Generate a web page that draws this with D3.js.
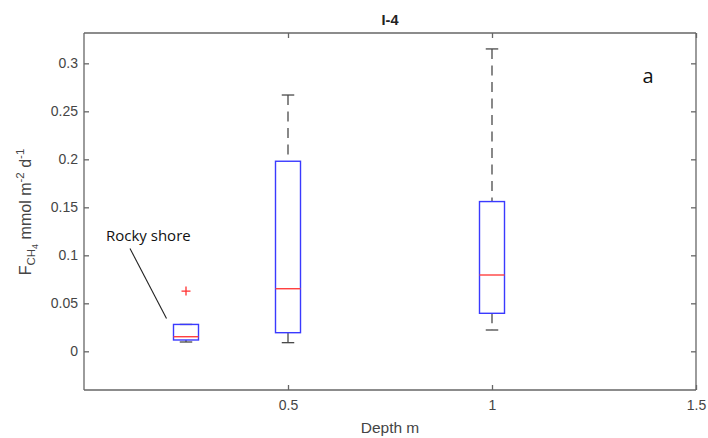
<!DOCTYPE html>
<html><head><meta charset="utf-8">
<script src="https://cdn.jsdelivr.net/npm/d3@7"></script>
<style>body{margin:0;background:#fff}svg{display:block}</style>
</head><body>
<script>
// Data
const depths = [0.25, 0.5, 1];
const q1 = [0.0118, 0.0194, 0.0396];
const medians = [0.0152, 0.0652, 0.0795];
const q3 = [0.028, 0.198, 0.156];
const whiskerLow = [0.0097, 0.009, 0.0222];
const whiskerHigh = [0.028, 0.267, 0.315];
const outliers = [[0.25, 0.0628]];
const yTicks = [0, 0.05, 0.1, 0.15, 0.2, 0.25, 0.3];
const xTicks = [0.5, 1, 1.5];
const title = "I-4";
const panelLabel = "a";
const annotation = "Rocky shore";

const W = 708, H = 438;
const m = {l: 84, r: 12, t: 33, b: 48};
const svg = d3.select("body").append("svg").attr("width", W).attr("height", H);
const x = d3.scaleLinear().domain([0, 1.5]).range([m.l, W - m.r]);
const y = d3.scaleLinear().domain([-0.0403, 0.3316]).range([H - m.b, m.t]);

const axisCol = "#666", textCol = "#454545";
const font = "'Liberation Sans', Arial, sans-serif";

// axes with inward ticks on all sides
const tl = 5;
const gL = svg.append("g").attr("transform", `translate(${m.l},0)`)
  .call(d3.axisLeft(y).tickValues(yTicks).tickSize(-tl).tickPadding(6).tickFormat(d3.format("")));
const gR = svg.append("g").attr("transform", `translate(${W - m.r},0)`)
  .call(d3.axisRight(y).tickValues(yTicks).tickSize(-tl).tickFormat(""));
const gB = svg.append("g").attr("transform", `translate(0,${H - m.b})`)
  .call(d3.axisBottom(x).tickValues(xTicks).tickSize(-tl).tickPadding(10).tickFormat(d3.format("")));
const gT = svg.append("g").attr("transform", `translate(0,${m.t})`)
  .call(d3.axisTop(x).tickValues(xTicks).tickSize(-tl).tickFormat(""));
[gL, gR, gB, gT].forEach(g => {
  g.select(".domain").attr("stroke", axisCol).attr("stroke-width", 1.3);
  g.selectAll(".tick line").attr("stroke", axisCol).attr("stroke-width", 1.3);
  g.selectAll(".tick text").attr("fill", textCol).attr("font-family", font).attr("font-size", 14);
});
gR.select(".domain").attr("d", `M0,${m.t}V${H - m.b}`);
gT.select(".domain").attr("d", `M${m.l},0H${W - m.r}`);
gL.select(".domain").attr("d", `M0,${m.t}V${H - m.b}`);
gB.select(".domain").attr("d", `M${m.l},0H${W - m.r}`);

// box plots
const bw = 12.5; // half width px
const data = depths.map((d, i) => ({d, q1: q1[i], med: medians[i], q3: q3[i], lo: whiskerLow[i], hi: whiskerHigh[i]}));
const g = svg.append("g");
const whCol = "#4a4a4a";
data.forEach(b => {
  const cx = x(b.d);
  // whiskers dashed
  g.append("line").attr("x1", cx).attr("x2", cx).attr("y1", y(b.hi)).attr("y2", y(b.q3))
    .attr("stroke", whCol).attr("stroke-width", 1.3).attr("stroke-dasharray", "10,6.5");
  g.append("line").attr("x1", cx).attr("x2", cx).attr("y1", y(b.q1)).attr("y2", y(b.lo))
    .attr("stroke", whCol).attr("stroke-width", 1.3).attr("stroke-dasharray", "10,6.5");
  // caps
  [b.hi, b.lo].forEach(v => g.append("line").attr("x1", cx - bw / 2).attr("x2", cx + bw / 2)
    .attr("y1", y(v)).attr("y2", y(v)).attr("stroke", whCol).attr("stroke-width", 1.3));
  // box
  g.append("rect").attr("x", cx - bw).attr("width", 2 * bw)
    .attr("y", y(b.q3)).attr("height", y(b.q1) - y(b.q3))
    .attr("fill", "none").attr("stroke", "#3a3aff").attr("stroke-width", 1.4);
  g.append("line").attr("x1", cx - bw).attr("x2", cx + bw).attr("y1", y(b.med)).attr("y2", y(b.med))
    .attr("stroke", "#ff4040").attr("stroke-width", 1.4);
});
// outliers
outliers.forEach(([d, v]) => {
  const cx = x(d), cy = y(v);
  g.append("path").attr("d", `M${cx - 4.5},${cy}H${cx + 4.5}M${cx},${cy - 4.5}V${cy + 4.5}`)
    .attr("stroke", "#ff3030").attr("stroke-width", 1.3);
});

// title
svg.append("text").attr("x", (m.l + W - m.r) / 2).attr("y", 25).attr("text-anchor", "middle")
  .attr("font-family", font).attr("font-weight", "bold").attr("font-size", 14.5).attr("fill", "#222").text(title);

// x label
svg.append("text").attr("x", (m.l + W - m.r) / 2).attr("y", 433).attr("text-anchor", "middle")
  .attr("font-family", font).attr("font-size", 15.5).attr("fill", textCol).text("Depth m");

// y label
const yl = svg.append("text").attr("transform", "translate(31,212) rotate(-90)").attr("text-anchor", "middle")
  .attr("font-family", font).attr("font-size", 16).attr("fill", textCol);
yl.append("tspan").text("F");
yl.append("tspan").attr("font-size", 11.5).attr("dy", 4).text("CH");
yl.append("tspan").attr("font-size", 9).attr("dy", 3).text("4");
yl.append("tspan").attr("dy", -7).text(" mmol m");
yl.append("tspan").attr("font-size", 11.5).attr("dy", -7).text("-2");
yl.append("tspan").attr("dy", 7).text(" d");
yl.append("tspan").attr("font-size", 11.5).attr("dy", -7).text("-1");

// panel label
svg.append("text").attr("x", 648).attr("y", 83).attr("text-anchor", "middle")
  .attr("font-family", "'Open Sans', sans-serif").attr("font-size", 20).attr("fill", "#111").text(panelLabel);

// annotation
svg.append("text").attr("x", 106).attr("y", 241)
  .attr("font-family", "'Open Sans', sans-serif").attr("font-size", 15).attr("fill", "#111").text(annotation);
svg.append("line").attr("x1", 130).attr("y1", 248.5).attr("x2", 166.5).attr("y2", 318.5)
  .attr("stroke", "#222").attr("stroke-width", 1.1);
</script>
</body></html>
